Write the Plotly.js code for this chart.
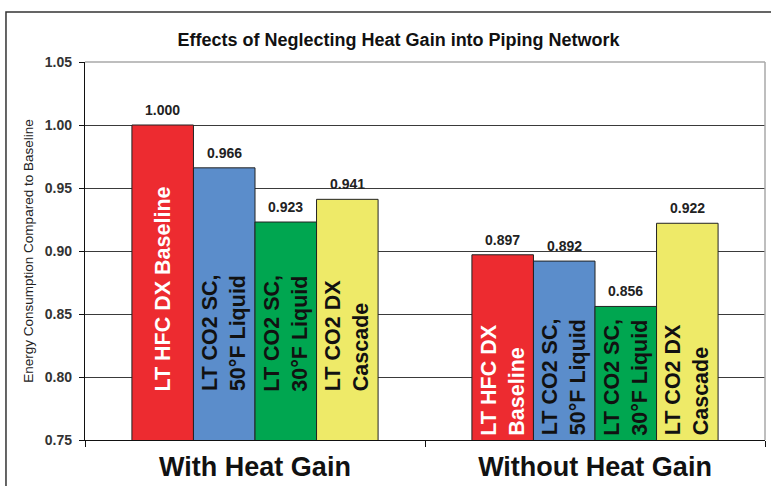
<!DOCTYPE html>
<html>
<head>
<meta charset="utf-8">
<script src="https://cdn.plot.ly/plotly-3.0.1.min.js"></script>
<style>
  html, body { margin: 0; padding: 0; background: #ffffff; }
  #chart { width: 771px; height: 486px; }
</style>
</head>
<body>
<div id="chart"></div>
<script>
// ---- data ----
const categories = ["With Heat Gain", "Without Heat Gain"];
const seriesNames = ["LT HFC DX Baseline", "LT CO2 SC, 50°F Liquid", "LT CO2 SC, 30°F Liquid", "LT CO2 DX Cascade"];
const hfcBaseline = [1.000, 0.897];
const co2Sc50 = [0.966, 0.892];
const co2Sc30 = [0.923, 0.856];
const co2Cascade = [0.941, 0.922];
const barLabelsWith = ["LT HFC DX Baseline", "LT CO2 SC,<br>50°F Liquid", "LT CO2 SC,<br>30°F Liquid", "LT CO2 DX<br>Cascade"];
const barLabelsWithout = ["LT HFC DX<br>Baseline", "LT CO2 SC,<br>50°F Liquid", "LT CO2 SC,<br>30°F Liquid", "LT CO2 DX<br>Cascade"];
const yTickValues = [0.75, 0.80, 0.85, 0.90, 0.95, 1.00, 1.05];

// ---- styles ----
const colors = ["#ED2B30", "#5B8DCB", "#00A650", "#EEEA68"];
const insideTextColors = ["#ffffff", "#111111", "#111111", "#111111"];
const FONT = "Liberation Sans, Arial, sans-serif";
const BARGAP = 0.276;
const labelBase = [0.787, 0.752]; // where the rotated in-bar labels start, per category

const series = [hfcBaseline, co2Sc50, co2Sc30, co2Cascade];
const insideLabels = [barLabelsWith, barLabelsWithout];

const traces = series.map((vals, i) => ({
  type: "bar",
  name: seriesNames[i],
  x: categories,
  y: vals,
  marker: { color: colors[i], line: { color: "#222222", width: 1 } },
  hoverinfo: "skip",
  showlegend: false
}));

const nS = series.length;
const w = (1 - BARGAP) / nS;
const annotations = [];
series.forEach((vals, i) => {
  vals.forEach((v, c) => {
    const xc = c + (i - (nS - 1) / 2) * w;
    // value above bar
    annotations.push({
      x: xc, y: v, xref: "x", yref: "y",
      text: v.toFixed(3),
      showarrow: false, yanchor: "bottom", yshift: 5,
      font: { family: FONT, size: 14, color: "#222222", weight: "bold" }
    });
    // rotated label inside bar
    annotations.push({
      x: xc, y: labelBase[c], xref: "x", yref: "y",
      text: insideLabels[c][i],
      textangle: -90, align: "left",
      showarrow: false, yanchor: "bottom", xanchor: "center",
      font: { family: FONT, size: 21.5, color: insideTextColors[i], weight: "bold" }
    });
  });
});

const layout = {
  width: 771, height: 486,
  margin: { l: 85, r: 6, t: 62, b: 46, pad: 0 },
  paper_bgcolor: "#ffffff", plot_bgcolor: "#ffffff",
  barmode: "group", bargap: BARGAP, bargroupgap: 0,
  title: {
    text: "Effects of Neglecting Heat Gain into Piping Network",
    x: 0.517, xanchor: "center", y: 0.918, yanchor: "middle", yref: "container",
    font: { family: FONT, size: 18, color: "#111111", weight: "bold" }
  },
  xaxis: {
    type: "category",
    showline: true, linecolor: "#111111", linewidth: 1.2,
    ticks: "outside", tickson: "boundaries", ticklen: 6, tickcolor: "#111111",
    tickfont: { family: FONT, size: 27, color: "#111111", weight: "bold" },
    ticklabelstandoff: 2,
    showgrid: false, zeroline: false, fixedrange: true
  },
  yaxis: {
    range: [0.75, 1.05],
    tickvals: yTickValues, tickformat: ".2f",
    showline: true, linecolor: "#111111", linewidth: 1.2,
    ticks: "outside", ticklen: 5, tickcolor: "#111111",
    tickfont: { family: FONT, size: 14, color: "#333333", weight: "bold" },
    ticklabelstandoff: 4,
    showgrid: true, gridcolor: "#3a3a3a", gridwidth: 1,
    zeroline: false, fixedrange: true,
    title: {
      text: "Energy Consumption Compared to Baseline",
      font: { family: FONT, size: 13.5, color: "#222222" },
      standoff: 8
    }
  },
  annotations: annotations,
  shapes: [
    { type: "line", xref: "paper", yref: "paper", x0: 0, x1: 1, y0: 1, y1: 1,
      line: { color: "#a8a8a8", width: 1.5 }, layer: "above" },
    { type: "line", xref: "paper", yref: "paper", x0: 1, x1: 1, y0: 0, y1: 1,
      line: { color: "#a8a8a8", width: 1.5 }, layer: "above" },
    { type: "rect", xref: "paper", yref: "paper", x0: -0.1162, x1: 1.2, y0: -0.3, y1: 1.1323,
      line: { color: "#333333", width: 1.5 }, layer: "below" }
  ]
};

Plotly.newPlot("chart", traces, layout, { displayModeBar: false, staticPlot: true });
</script>
</body>
</html>
